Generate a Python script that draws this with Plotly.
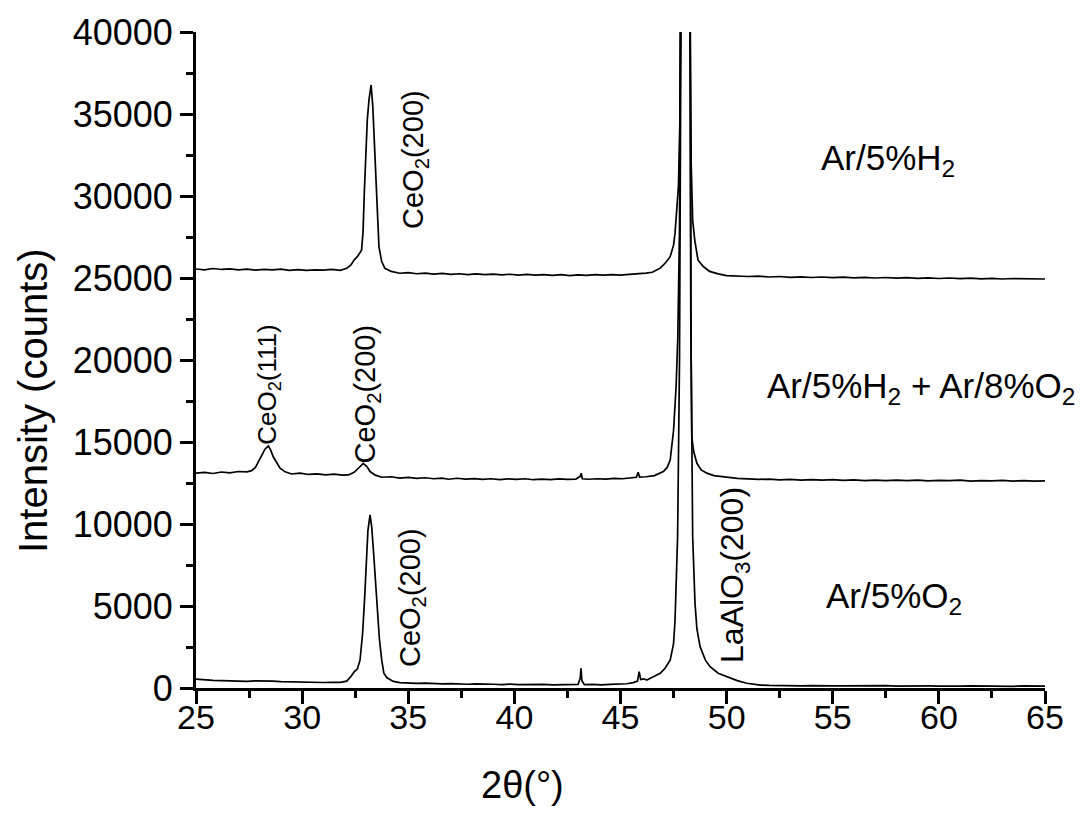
import plotly.graph_objects as go

# ---- Data ----
# Ar/5%O2 (bottom trace)
x_o2 = [25.0, 25.4, 25.8, 26.2, 26.6, 27.0, 27.4, 27.8, 28.2, 28.6, 29.0, 29.4, 29.8, 30.2, 30.6,
        31.0, 31.4, 31.8, 32.1, 32.3, 32.45, 32.6, 32.73, 32.85, 32.95, 33.01, 33.1, 33.2, 33.28,
        33.38, 33.48, 33.56, 33.64, 33.75, 33.85, 34.0, 34.3, 34.6, 35.0, 35.4, 35.8, 36.2, 36.6,
        37.0, 37.4, 37.8, 38.2, 38.6, 39.0, 39.4, 39.8, 40.2, 40.6, 41.0, 41.4, 41.8, 42.2, 42.6,
        43.0, 43.1, 43.14, 43.18, 43.3, 43.7, 44.1, 44.5, 44.9, 45.3, 45.6, 45.8, 45.88, 45.95,
        46.1, 46.24, 46.5, 46.87, 47.1, 47.34, 47.5, 47.57, 47.69, 47.78, 47.86, 48.08, 48.27,
        48.33, 48.4, 48.51, 48.6, 48.75, 49.0, 49.22, 49.6, 50.0, 50.5, 50.95, 51.6, 52.0, 52.5,
        53.0, 53.5, 54.0, 54.5, 55.0, 55.5, 56.0, 56.5, 57.0, 57.5, 58.0, 58.5, 59.0, 59.5, 60.0,
        60.5, 61.0, 61.5, 62.0, 62.5, 63.0, 63.5, 64.0, 64.5, 65.0]
y_o2 = [540, 490, 470, 455, 430, 445, 410, 430, 400, 415, 390, 380, 345, 330, 360,
        335, 350, 340, 420, 700, 980, 1150, 1710, 3350, 5600, 7400, 9600, 10550, 9800,
        8000, 5800, 4000, 3000, 1700, 900, 620, 400, 330, 300, 280, 300, 260, 250,
        270, 240, 230, 255, 220, 230, 210, 240, 200, 220, 205, 215, 190, 210, 200,
        215, 600, 1200, 450, 200, 215, 190, 220, 240, 260, 330, 420, 1000, 520,
        560, 490, 650, 900, 1200, 1700, 2700, 4150, 9230, 20000, 44000, 150000, 44000,
        20000, 9230, 5170, 3600, 2520, 1700, 1300, 900, 690, 450, 290, 180, 160, 140,
        150, 130, 145, 120, 135, 125, 140, 115, 130, 150, 120, 135, 110, 130, 120,
        140, 115, 125, 110, 135, 120, 105, 125, 110, 120]

# Ar/5%H2 + Ar/8%O2 (middle trace)
x_mix = [25.0, 25.4, 25.8, 26.2, 26.6, 27.0, 27.4, 27.62, 27.8, 27.94, 28.1, 28.25, 28.41, 28.52,
         28.64, 28.8, 28.96, 29.2, 29.5, 29.9, 30.3, 30.7, 31.1, 31.5, 31.9, 32.18, 32.45, 32.65,
         32.88, 33.05, 33.2, 33.45, 33.75, 34.2, 34.6, 35.0, 35.4, 35.8, 36.2, 36.6, 36.9, 37.3,
         37.7, 38.1, 38.5, 38.9, 39.3, 39.7, 40.1, 40.5, 40.9, 41.3, 41.7, 42.1, 42.5, 42.9, 43.1,
         43.15, 43.2, 43.5, 43.9, 44.3, 44.7, 45.1, 45.5, 45.75, 45.83, 45.9, 46.2, 46.6, 47.02,
         47.2, 47.34, 47.5, 47.62, 47.7, 47.78, 47.86, 48.08, 48.27, 48.31, 48.36, 48.45, 48.6,
         48.8, 49.07, 49.4, 49.7, 50.1, 50.5, 51.0, 51.5, 52.0, 52.5, 53.0, 53.5, 54.0, 54.5, 55.0,
         55.5, 56.0, 56.5, 57.0, 57.5, 58.0, 58.5, 59.0, 59.5, 60.0, 60.5, 61.0, 61.5, 62.0, 62.5,
         63.0, 63.5, 64.0, 64.5, 65.0]
y_mix = [13100, 13150, 13080, 13170, 13120, 13200, 13180, 13250, 13450, 13800, 14200, 14560, 14760, 14500,
         14100, 13700, 13400, 13180, 13050, 13100, 13020, 13060, 12990, 13040, 12980, 12990, 13150, 13400,
         13700, 13500, 13200, 12980, 12850, 12880, 12800, 12840, 12780, 12820, 12760, 12800, 12730, 12790,
         12740, 12770, 12720, 12760, 12710, 12750, 12720, 12760, 12700, 12740, 12710, 12750, 12720, 12740, 12900,
         13100, 12760, 12730, 12760, 12740, 12780, 12760, 12800, 12850, 13150, 12860, 12880, 12950, 13200,
         13450, 13900, 15700, 18400, 21400, 28000, 44000, 150000, 44000, 23000, 15300, 14400, 13700,
         13300, 13100, 12950, 12900, 12820, 12780, 12750, 12720, 12740, 12690, 12720, 12680, 12710, 12670, 12700,
         12660, 12690, 12650, 12680, 12640, 12670, 12650, 12680, 12630, 12660, 12640, 12670, 12620, 12650, 12630,
         12660, 12620, 12640, 12610, 12630]

# Ar/5%H2 (top trace)
x_h2 = [25.0, 25.4, 25.8, 26.2, 26.6, 27.0, 27.4, 27.8, 28.2, 28.6, 29.0, 29.4, 29.8, 30.2, 30.6,
        31.0, 31.4, 31.8, 32.1, 32.3, 32.45, 32.6, 32.8, 32.87, 32.93, 33.0, 33.07, 33.15, 33.25, 33.33,
        33.48, 33.62, 33.75, 33.9, 34.2, 34.6, 35.0, 35.4, 35.8, 36.2, 36.6, 37.0, 37.4, 37.8, 38.2,
        38.6, 39.0, 39.4, 39.8, 40.2, 40.6, 41.0, 41.4, 41.8, 42.2, 42.6, 43.0, 43.4, 43.8, 44.2,
        44.6, 45.0, 45.4, 45.8, 46.2, 46.5, 46.87, 47.1, 47.34, 47.5, 47.57, 47.73, 47.8, 47.86,
        48.08, 48.27, 48.33, 48.4, 48.5, 48.65, 48.9, 49.2, 49.6, 50.0, 50.5, 51.0, 51.5, 52.0,
        52.5, 53.0, 53.5, 54.0, 54.5, 55.0, 55.5, 56.0, 56.5, 57.0, 57.5, 58.0, 58.5, 59.0, 59.5,
        60.0, 60.5, 61.0, 61.5, 62.0, 62.5, 63.0, 63.5, 64.0, 64.5, 65.0]
y_h2 = [25550, 25500, 25580, 25520, 25560, 25500, 25540, 25480, 25530, 25490, 25540, 25470, 25510, 25460, 25500,
        25480, 25520, 25470, 25590, 25800, 26100, 26300, 26700, 27800, 30200, 32700, 34640, 35860, 36770, 35450,
        30570, 26900, 26000, 25590, 25400, 25290, 25330, 25260, 25300, 25240, 25280, 25220, 25260, 25210, 25250,
        25200, 25240, 25190, 25230, 25180, 25220, 25170, 25210, 25160, 25200, 25150, 25190, 25160, 25200, 25170,
        25210, 25180, 25220, 25250, 25300, 25350, 25600, 25900, 26300, 27000, 27750, 30600, 34600, 44000,
        150000, 44000, 32000, 28500, 27300, 26100, 25700, 25400, 25250, 25150, 25120, 25090, 25110, 25060,
        25090, 25040, 25070, 25030, 25060, 25020, 25050, 25010, 25040, 25000, 25030, 24990, 25020, 24980, 25010,
        24970, 25000, 24960, 24990, 24950, 24980, 24940, 24970, 24950, 24960, 24940]

x_tickvals = [25, 30, 35, 40, 45, 50, 55, 60, 65]
x_ticktext = ["25", "30", "35", "40", "45", "50", "55", "60", "65"]
y_tickvals = [0, 5000, 10000, 15000, 20000, 25000, 30000, 35000, 40000]
y_ticktext = ["0", "5000", "10000", "15000", "20000", "25000", "30000", "35000", "40000"]

REG = "Liberation Sans, Arial, sans-serif"

fig = go.Figure()
for xs, ys in [(x_o2, y_o2), (x_mix, y_mix), (x_h2, y_h2)]:
    fig.add_trace(go.Scatter(x=xs, y=ys, mode="lines",
                             line=dict(color="black", width=1.7), showlegend=False,
                             hoverinfo="skip"))

rot = dict(family=REG, size=29, color="black")
gas = dict(family=REG, size=35, color="black")
annotations = [
    dict(x=35.32, y=32200, text="CeO<sub>2</sub>(200)", textangle=-90, font=rot),
    dict(x=28.4, y=18500, text="CeO<sub>2</sub>(111)", textangle=-90, font=dict(family=REG, size=26, color="black")),
    dict(x=33.06, y=17900, text="CeO<sub>2</sub>(200)", textangle=-90, font=rot),
    dict(x=35.18, y=5490, text="CeO<sub>2</sub>(200)", textangle=-90, font=rot),
    dict(x=50.35, y=6890, text="LaAlO<sub>3</sub>(200)", textangle=-90, font=dict(family=REG, size=32, color="black")),
    dict(x=57.6, y=32200, text="Ar/5%H<sub>2</sub>", font=gas),
    dict(x=59.17, y=18300, text="Ar/5%H<sub>2</sub> + Ar/8%O<sub>2</sub>", font=gas),
    dict(x=57.9, y=5490, text="Ar/5%O<sub>2</sub>", font=gas),
    dict(xref="paper", yref="paper", x=-0.192, y=0.439, xanchor="center", yanchor="middle",
         text="Intensity (counts)", textangle=-90, font=dict(family=REG, size=40, color="black")),
    dict(xref="paper", yref="paper", x=0.384, y=-0.148, xanchor="center", yanchor="middle",
         text="2θ(°)", font=dict(family=REG, size=38, color="black")),
]
for a in annotations:
    a["showarrow"] = False
    a.setdefault("xanchor", "center")
    a.setdefault("yanchor", "middle")

fig.update_layout(
    width=1081, height=815,
    margin=dict(l=196, r=36, t=32, b=127),
    paper_bgcolor="white", plot_bgcolor="white",
    annotations=annotations,
    xaxis=dict(range=[25, 65], tickvals=x_tickvals, ticktext=x_ticktext, ticks="outside", ticklen=13,
               tickwidth=3, tickcolor="black", showline=True, linewidth=3, linecolor="black",
               showgrid=False, zeroline=False, ticklabelstandoff=-16,
               tickfont=dict(family=REG, size=34, color="black"),
               minor=dict(dtick=2.5, tick0=25, ticks="outside", ticklen=7, tickwidth=3, tickcolor="black")),
    yaxis=dict(range=[0, 40000], tickvals=y_tickvals, ticktext=y_ticktext, ticks="outside", ticklen=13,
               tickwidth=3, tickcolor="black", showline=True, linewidth=3, linecolor="black",
               showgrid=False, zeroline=False,
               tickfont=dict(family=REG, size=36, color="black"),
               minor=dict(dtick=2500, tick0=0, ticks="outside", ticklen=7, tickwidth=3, tickcolor="black")),
)

fig.write_html("out.html")
